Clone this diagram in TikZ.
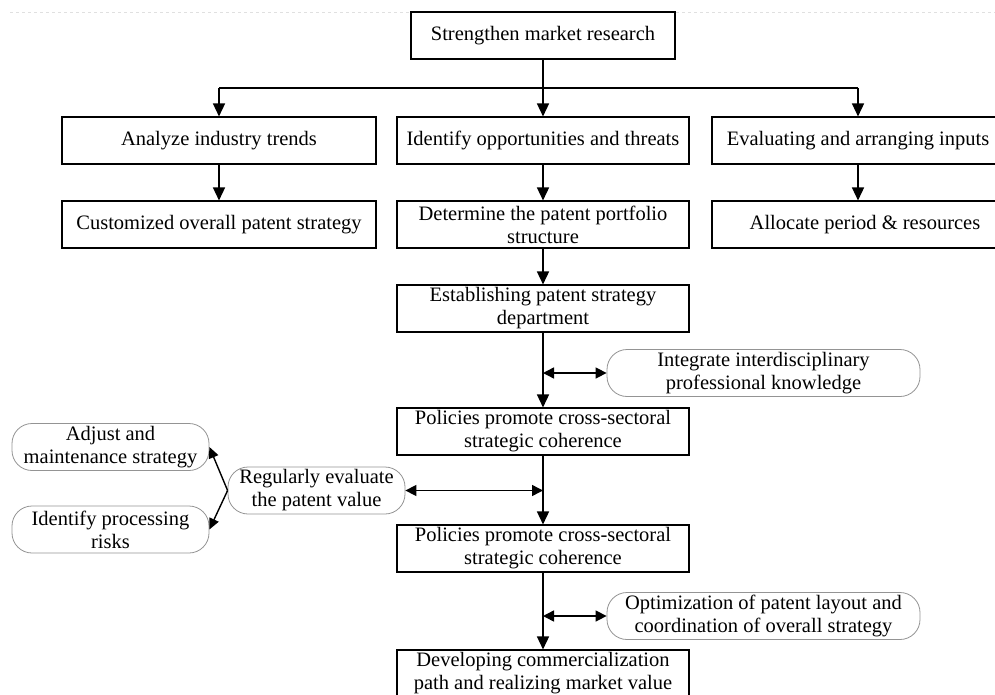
\documentclass[tikz,border=0pt]{standalone}
\usepackage{fontspec}
\setmainfont{Liberation Serif}
\usetikzlibrary{arrows.meta}
\begin{document}
\begin{tikzpicture}[x=1pt,y=-1pt,
  txt/.style={font=\fontsize{20.5}{23}\selectfont, align=center, inner sep=0pt},
  sq/.style={txt, draw=black, line width=1.1pt, rectangle, minimum height=47pt},
  rnd/.style={txt, draw=black!42, line width=0.8pt, rectangle, rounded corners=20pt, minimum height=47pt},
  ln/.style={line width=1.5pt},
  arr/.style={ln, -{Triangle[length=13pt,width=12pt]}},
  dbl/.style={ln, {Triangle[length=11pt,width=11pt]}-{Triangle[length=11pt,width=11pt]}},
  fork/.style={line width=1.4pt, -{Triangle[length=11pt,width=10pt]}}
]
\useasboundingbox (0,0) rectangle (995,695);
\clip (0,0) rectangle (995,695);
\draw[black!12, dashed, line width=0.6pt] (10,12) -- (995,12);

\node[sq, minimum width=264pt] (top) at (543,35.5) {Strengthen market research};

\node[sq, minimum width=314pt] (A) at (219,140.5) {Analyze industry trends};
\node[sq, minimum width=292pt] (B) at (543,140.5) {Identify opportunities and threats};
\node[sq, minimum width=292pt] (C) at (858,140.5) {Evaluating and arranging inputs};

\node[sq, minimum width=314pt] (A2) at (219,224.5) {Customized overall patent strategy};
\node[sq, minimum width=292pt] (B2) at (543,224.5) {Determine the patent portfolio\\structure};
\node[sq, minimum width=306pt] (C2) at (865,224.5) {Allocate period \& resources};

\node[sq, minimum width=292pt] (E) at (543,308.5) {Establishing patent strategy\\department};
\node[rnd, minimum width=313pt] (I) at (763.5,373) {Integrate interdisciplinary\\professional knowledge};

\node[sq, minimum width=292pt] (P1) at (543,431.5) {Policies promote cross-sectoral\\strategic coherence};
\node[rnd, minimum width=177pt] (R) at (316.5,490.5) {Regularly evaluate\\the patent value};
\node[rnd, minimum width=197pt] (Adj) at (110.5,447) {Adjust and\\maintenance strategy};
\node[rnd, minimum width=197pt] (Idp) at (110.5,529.5) {Identify processing\\risks};

\node[sq, minimum width=292pt] (P2) at (543,548.5) {Policies promote cross-sectoral\\strategic coherence};
\node[rnd, minimum width=313pt] (O) at (763.5,616) {Optimization of patent layout and\\coordination of overall strategy};

\node[sq, minimum width=292pt] (D) at (543,673.5) {Developing commercialization\\path and realizing market value};

% top distribution
\coordinate (jA) at (219,88);
\coordinate (jC) at (858,88);
\draw[ln] (jA) -- (jC);
\draw[arr] (top) -- (B);
\draw[arr] (jA) -- (A);
\draw[arr] (jC) -- (C);

% second row
\draw[arr] (A) -- (A2);
\draw[arr] (B) -- (B2);
\draw[arr] (C.south) -- (C.south |- C2.north);

% main spine
\draw[arr] (B2) -- (E);
\draw[arr] (E) -- (P1);
\draw[dbl] (I.west -| E.south) -- (I.west);
\draw[arr] (P1) -- (P2);
\draw[dbl] (R.east) -- (R.east -| P1.south);
\draw[arr] (P2) -- (D);
\draw[dbl] (O.west -| P2.south) -- (O.west);

% fork
\draw[fork] (R.west) -- (Adj.east);
\draw[fork] (R.west) -- (Idp.east);
\end{tikzpicture}
\end{document}
